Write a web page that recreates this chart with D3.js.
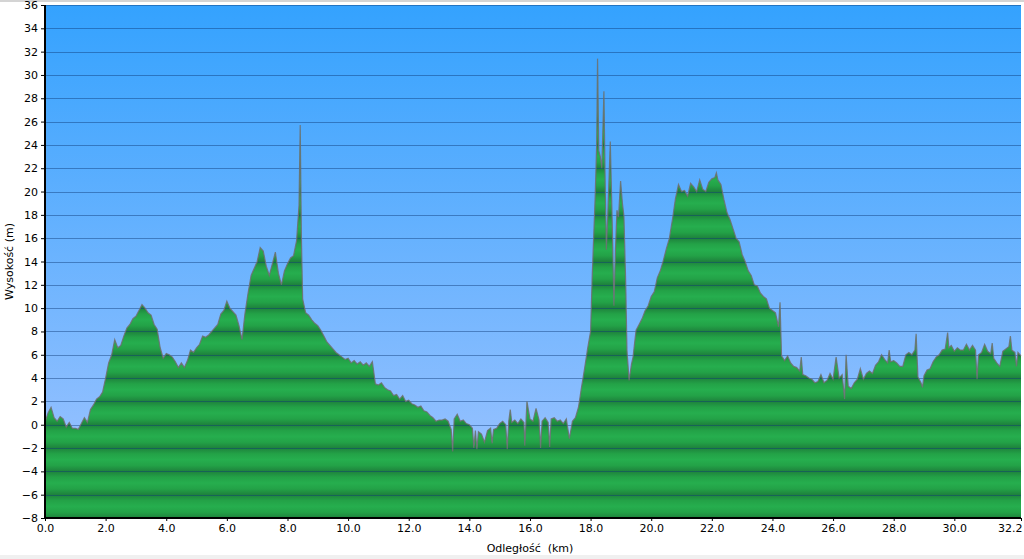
<!DOCTYPE html>
<html>
<head>
<meta charset="utf-8">
<script src="https://cdn.jsdelivr.net/npm/d3@7"></script>
<style>
  html, body { margin: 0; padding: 0; background: #ffffff; }
  svg { display: block; }
  text { font-family: "DejaVu Sans", Verdana, sans-serif; fill: #000; }
</style>
</head>
<body>
<svg id="chart" width="1024" height="559"></svg>
<script>
// ---- data ----
const distKm = [
  0.0,0.1,0.2,0.3,0.4,0.5,0.6,0.7,0.8,0.9,
  1.0,1.1,1.2,1.3,1.4,1.5,1.6,1.7,1.8,1.9,
  2.0,2.1,2.2,2.3,2.4,2.5,2.6,2.7,2.8,2.9,
  3.0,3.1,3.2,3.3,3.4,3.5,3.6,3.7,3.8,3.9,
  4.0,4.1,4.2,4.3,4.4,4.5,4.6,4.7,4.8,4.9,
  5.0,5.1,5.2,5.3,5.4,5.5,5.6,5.7,5.8,5.9,
  6.0,6.1,6.2,6.3,6.4,6.5,6.6,6.7,6.8,6.9,
  7.0,7.1,7.2,7.3,7.4,7.5,7.6,7.7,7.8,7.9,
  8.0,8.1,8.2,8.3,8.38,8.42,8.46,8.5,8.6,8.7,8.8,8.9,
  9.0,9.1,9.2,9.3,9.4,9.5,9.6,9.7,9.8,9.9,
  10.0,10.1,10.2,10.3,10.4,10.5,10.6,10.7,10.8,10.9,
  11.0,11.1,11.2,11.3,11.4,11.5,11.6,11.7,11.8,11.9,
  12.0,12.1,12.2,12.3,12.4,12.5,12.6,12.7,12.8,12.9,
  13.0,13.1,13.2,13.3,13.4,13.45,13.5,13.6,13.7,13.8,13.9,
  14.0,14.1,14.15,14.2,14.25,14.3,14.4,14.5,14.6,14.7,14.75,14.8,14.9,
  15.0,15.1,15.2,15.25,15.3,15.35,15.4,15.5,15.6,15.7,15.8,15.83,15.9,
  16.0,16.1,16.2,16.3,16.35,16.4,16.5,16.6,16.65,16.7,16.8,16.9,
  17.0,17.1,17.2,17.3,17.4,17.5,17.6,17.7,17.8,17.9,
  18.0,18.05,18.1,18.15,18.2,18.23,18.27,18.32,18.37,18.44,18.48,18.52,18.56,18.65,18.71,18.77,18.82,18.87,18.92,18.99,
  19.05,19.1,19.16,19.2,19.27,19.35,19.4,19.5,19.6,19.7,19.8,19.9,
  20.0,20.1,20.2,20.3,20.4,20.5,20.6,20.7,20.8,20.9,
  21.0,21.1,21.2,21.3,21.4,21.5,21.6,21.7,21.8,21.9,
  22.0,22.1,22.15,22.2,22.3,22.4,22.5,22.6,22.7,22.8,22.9,
  23.0,23.1,23.2,23.3,23.4,23.5,23.6,23.7,23.8,23.9,
  24.0,24.1,24.2,24.25,24.3,24.4,24.5,24.6,24.7,24.8,24.9,24.95,
  25.0,25.1,25.2,25.3,25.4,25.5,25.6,25.7,25.8,25.9,
  26.0,26.1,26.2,26.3,26.38,26.43,26.5,26.6,26.7,26.8,26.9,
  27.0,27.1,27.2,27.3,27.4,27.5,27.6,27.7,27.8,27.85,27.9,
  28.0,28.1,28.2,28.3,28.4,28.5,28.6,28.7,28.74,28.8,28.9,28.95,
  29.0,29.1,29.2,29.3,29.4,29.5,29.6,29.7,29.78,29.82,29.9,
  30.0,30.1,30.2,30.3,30.4,30.5,30.6,30.7,30.75,30.8,30.9,
  31.0,31.1,31.2,31.25,31.3,31.4,31.5,31.6,31.7,31.8,31.85,31.9,
  32.0,32.05,32.1,32.2
];
const elevM = [
  0.2,1.0,1.5,0.6,0.3,0.7,0.5,-0.2,0.2,-0.3,
  -0.3,-0.4,0.1,0.6,0.2,1.3,1.7,2.2,2.4,2.8,
  4.0,5.3,6.0,7.3,6.6,6.8,7.6,8.3,8.6,9.1,
  9.3,9.8,10.3,10.0,9.6,9.4,8.6,8.2,6.6,5.7,
  6.1,6.0,5.8,5.4,4.9,5.3,4.9,5.5,6.4,6.2,
  6.6,6.9,7.6,7.5,7.7,8.0,8.3,8.6,9.5,9.8,
  10.6,10.0,9.7,9.4,8.5,7.3,9.6,11.3,12.8,13.4,
  14.0,15.2,14.9,13.6,12.8,13.8,14.8,13.0,12.0,13.2,
  13.8,14.3,14.5,15.8,18.8,25.7,16.0,10.8,9.6,9.4,9.0,8.7,
  8.5,8.1,7.6,7.1,6.8,6.5,6.2,6.0,5.8,5.6,
  5.7,5.3,5.5,5.2,5.4,5.1,5.3,5.0,5.4,3.5,
  3.4,3.6,3.2,3.0,2.9,2.5,2.6,2.2,2.5,2.0,
  2.1,1.8,1.7,1.5,1.6,1.2,1.1,0.8,0.6,0.3,
  0.4,0.4,0.5,0.3,-0.4,-2.3,0.5,0.9,0.3,0.4,0.1,
  0.0,-0.3,-2.0,-0.5,-2.1,-0.6,-0.8,-1.5,-0.5,-0.3,-1.6,-0.4,-0.3,
  0.1,0.3,0.0,-2.1,0.3,1.3,0.2,0.4,0.1,0.5,0.2,-1.8,2.0,
  0.5,0.3,1.4,0.4,-2.0,0.3,0.6,0.2,-1.9,0.5,0.6,0.3,
  0.4,0.1,0.5,-1.2,0.3,0.6,1.5,3.2,4.8,6.5,
  8.0,12.5,16.0,19.5,24.0,31.4,23.5,23.0,22.0,28.6,21.0,15.0,17.5,24.3,17.8,10.2,15.0,18.4,17.8,20.9,
  19.0,17.9,12.0,6.4,3.8,5.2,5.8,8.1,8.6,9.1,9.8,10.2,
  11.0,11.4,12.6,13.2,14.1,15.1,16.0,17.6,19.4,20.6,
  20.0,20.1,19.6,20.7,20.4,20.0,21.0,20.2,20.0,20.8,
  21.1,21.2,21.6,21.0,20.6,19.3,18.2,17.6,16.8,16.0,15.7,
  14.6,14.0,13.2,12.8,12.0,11.9,11.3,11.0,10.8,10.0,
  9.8,9.6,8.4,10.5,5.9,5.5,5.9,5.3,5.0,4.9,4.6,5.8,
  4.3,4.2,4.0,3.9,3.6,3.7,4.3,3.6,3.8,4.4,
  3.9,5.8,4.0,4.3,2.2,6.0,3.3,3.1,3.6,3.9,4.8,
  3.9,4.4,4.6,4.4,5.1,5.4,6.0,5.6,5.3,6.4,5.4,
  5.5,5.3,5.0,5.0,6.0,6.2,6.0,6.4,7.8,4.1,3.6,3.2,
  4.2,4.7,4.8,5.4,5.8,6.0,6.4,6.5,7.9,6.6,6.8,
  6.3,6.6,6.4,6.4,6.9,6.4,6.8,6.4,3.9,6.0,6.2,
  6.9,6.3,6.1,7.0,5.7,5.3,5.0,6.3,6.5,6.7,7.6,6.4,
  6.2,5.0,6.2,5.9
];
const yTickValues = [-8,-6,-4,-2,0,2,4,6,8,10,12,14,16,18,20,22,24,26,28,30,32,34,36];
const xTickValues = [0,2,4,6,8,10,12,14,16,18,20,22,24,26,28,30,32.2];
const xTickLabels = ["0.0","2.0","4.0","6.0","8.0","10.0","12.0","14.0","16.0","18.0","20.0","22.0","24.0","26.0","28.0","30.0","32.2"];
const xTitle = "Odległość  (km)";
const yTitle = "Wysokość (m)";

// ---- layout ----
const padL = 45, padR = 1021, padT = 5, padB = 518;
const svg = d3.select("#chart");
const x = d3.scaleLinear().domain([0, 32.2]).range([padL, padR]);
const y = d3.scaleLinear().domain([-8, 36]).range([padB, padT]);

const defs = svg.append("defs");
const bg = defs.append("linearGradient").attr("id", "bgGrad")
  .attr("gradientUnits", "userSpaceOnUse")
  .attr("x1", 0).attr("x2", 0).attr("y1", padT).attr("y2", padB);
bg.append("stop").attr("offset", "0").attr("stop-color", "#34a2fe");
bg.append("stop").attr("offset", "1").attr("stop-color", "#a3c5ff");

const gg = defs.append("linearGradient").attr("id", "greenGrad")
  .attr("gradientUnits", "userSpaceOnUse")
  .attr("spreadMethod", "reflect")
  .attr("x1", 0).attr("x2", 0).attr("y1", y(0)).attr("y2", y(1));
gg.append("stop").attr("offset", "0").attr("stop-color", "#1e823c");
gg.append("stop").attr("offset", "0.5").attr("stop-color", "#23a247");
gg.append("stop").attr("offset", "1").attr("stop-color", "#26ae4e");

// thin frame lines of the page
svg.append("rect").attr("x", 0).attr("y", 0).attr("width", 1024).attr("height", 2).attr("fill", "#d4d4d4");
svg.append("rect").attr("x", 0).attr("y", 555).attr("width", 1024).attr("height", 4).attr("fill", "#f0f0f0");

// plot background
svg.append("rect").attr("x", padL).attr("y", padT)
  .attr("width", padR - padL).attr("height", padB - padT)
  .attr("fill", "url(#bgGrad)");

const pts = distKm.map((d, i) => [d, elevM[i]]);

// area
const area = d3.area().x(d => x(d[0])).y0(y(-8)).y1(d => y(d[1]));
svg.append("path").datum(pts).attr("d", area).attr("fill", "url(#greenGrad)");

// grid
svg.append("g").selectAll("line").data(yTickValues.filter(v => v > -8)).join("line")
  .attr("x1", padL).attr("x2", padR)
  .attr("y1", d => Math.round(y(d)) + 0.5).attr("y2", d => Math.round(y(d)) + 0.5)
  .attr("stroke", "#0d3a78").attr("stroke-opacity", 0.45).attr("stroke-width", 1);

// outline
const line = d3.line().x(d => x(d[0])).y(d => y(d[1]));
svg.append("path").datum(pts).attr("d", line)
  .attr("fill", "none").attr("stroke", "#6e6e6e").attr("stroke-width", 1.2).attr("stroke-opacity", 0.85);

// axes
const yAxis = d3.axisLeft(y).tickValues(yTickValues).tickSize(4).tickPadding(3).tickFormat(d3.format("d"));
const gy = svg.append("g").attr("transform", `translate(${padL},0)`).call(yAxis);
const xAxis = d3.axisBottom(x).tickValues(xTickValues).tickSize(3).tickPadding(3)
  .tickFormat((d, i) => xTickLabels[i]);
const gx = svg.append("g").attr("transform", `translate(0,${padB})`).call(xAxis);
[gx, gy].forEach(g => {
  g.select(".domain").attr("stroke", "#000").attr("stroke-width", 2);
  g.selectAll(".tick line").attr("stroke", "#000");
  g.selectAll(".tick text").attr("font-size", 11).attr("font-family", "DejaVu Sans, Verdana, sans-serif").attr("fill", "#000");
});
gy.select(".domain").attr("d", `M0,${padT}V${padB}`);
gx.select(".domain").attr("d", `M${padL},0H${padR}`);
// last distance label sits flush with the right edge
gx.selectAll(".tick").filter(d => d === 32.2).select("text").attr("text-anchor", "end").attr("dx", 1);

// titles
svg.append("text").attr("x", 530).attr("y", 552).attr("text-anchor", "middle")
  .attr("font-size", 11).attr("xml:space", "preserve").style("white-space", "pre").text(xTitle);
svg.append("text").attr("transform", `translate(13,${(padT + padB) / 2}) rotate(-90)`)
  .attr("text-anchor", "middle").attr("font-size", 11).text(yTitle);
</script>
</body>
</html>
